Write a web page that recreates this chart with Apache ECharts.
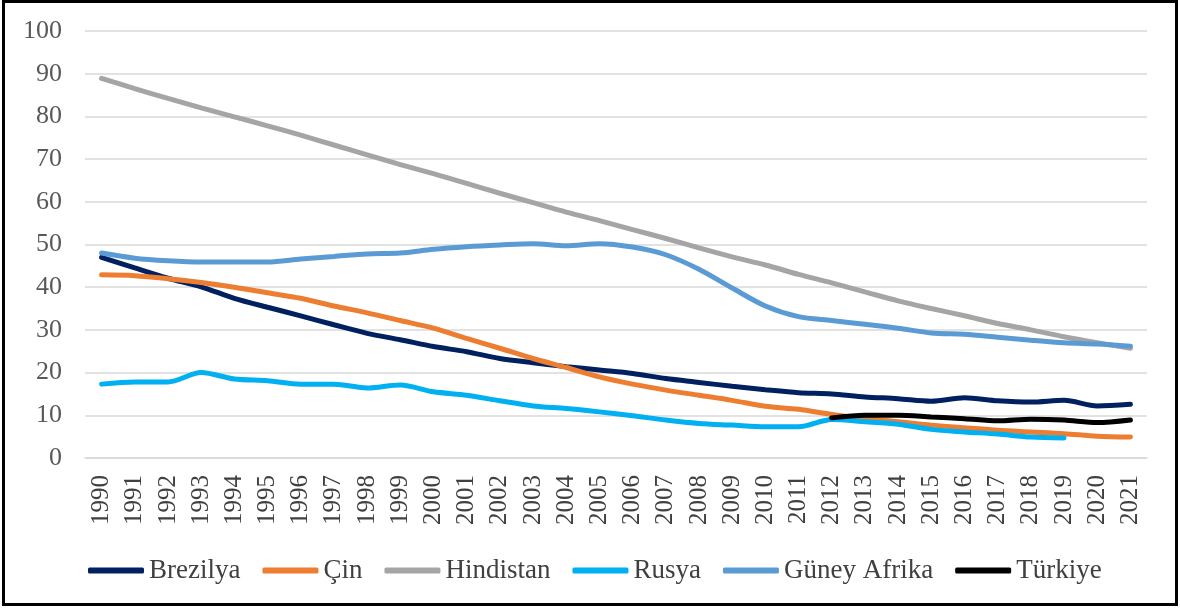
<!DOCTYPE html>
<html>
<head>
<meta charset="utf-8">
<script src="https://cdn.jsdelivr.net/npm/echarts@6/dist/echarts.min.js"></script>
<style>
html, body { margin: 0; padding: 0; background: #fff; }
#main { width: 1180px; height: 609px; }
</style>
</head>
<body>
<div id="main"></div>
<script>
var years = ['1990','1991','1992','1993','1994','1995','1996','1997','1998','1999','2000','2001','2002','2003','2004','2005','2006','2007','2008','2009','2010','2011','2012','2013','2014','2015','2016','2017','2018','2019','2020','2021'];

var brezilya = [47.0,44.5,42.1,40.1,37.4,35.3,33.3,31.2,29.2,27.7,26.1,24.9,23.3,22.3,21.4,20.6,19.8,18.6,17.7,16.8,16.0,15.3,15.0,14.3,13.9,13.3,14.1,13.4,13.1,13.5,12.2,12.6];
var cin = [42.9,42.7,42.0,41.1,40.0,38.7,37.4,35.6,34.0,32.2,30.4,28.0,25.7,23.3,21.2,19.0,17.3,15.9,14.7,13.5,12.1,11.4,10.2,9.2,8.5,7.7,7.1,6.5,6.1,5.7,5.1,4.9];
var hindistan = [88.9,86.5,84.2,82.0,79.9,77.8,75.6,73.3,71.0,68.7,66.6,64.3,62.0,59.8,57.6,55.6,53.5,51.4,49.2,47.1,45.2,43.0,41.0,38.9,36.8,35.0,33.3,31.5,30.0,28.4,27.0,25.7];
var rusya = [17.3,17.8,17.8,20.0,18.5,18.1,17.3,17.3,16.4,17.1,15.5,14.7,13.4,12.2,11.6,10.8,9.9,8.9,8.1,7.7,7.3,7.3,9.0,8.5,7.9,6.7,6.1,5.6,4.9,4.7,null,null];
var guneyAfrika = [48.0,46.8,46.2,45.9,45.9,45.9,46.6,47.2,47.8,48.0,48.9,49.5,49.9,50.2,49.7,50.2,49.4,47.6,44.2,39.8,35.6,33.1,32.2,31.3,30.4,29.3,29.0,28.3,27.6,27.0,26.7,26.2];
var turkiye = [null,null,null,null,null,null,null,null,null,null,null,null,null,null,null,null,null,null,null,null,null,null,9.4,10.0,10.0,9.6,9.2,8.7,9.1,8.9,8.3,8.9];

var names = ['Brezilya','Çin','Hindistan','Rusya','Güney Afrika','Türkiye'];
var colors = ['#002060','#ED7D31','#A5A5A5','#00B0F0','#5B9BD5','#000000'];
var values = [brezilya, cin, hindistan, rusya, guneyAfrika, turkiye];

var chart = echarts.init(document.getElementById('main'));

var series = [];
for (var i = 0; i < names.length; i++) {
	series.push({
		name: names[i],
		type: 'line',
		data: values[i],
		smooth: 0.3,
		symbol: 'none',
		lineStyle: { color: colors[i], width: 5, cap: 'round' },
		itemStyle: { color: colors[i] },
		z: 2 + i
	});
}

chart.setOption({
	animation: false,
	backgroundColor: '#fff',
	graphic: [{
		type: 'rect',
		shape: { x: 3.5, y: 1.5, width: 1173, height: 603 },
		style: { fill: 'none', stroke: '#000', lineWidth: 3 },
		silent: true
	}],
	grid: { left: 85, right: 33, top: 31, bottom: 151 },
	legend: {
		top: 552,
		left: 83,
		icon: 'roundRect',
		itemWidth: 56,
		itemHeight: 6,
		itemGap: 22,
		textStyle: { fontFamily: 'Liberation Serif', fontSize: 27, color: '#404040' },
		data: names
	},
	xAxis: {
		type: 'category',
		data: years,
		boundaryGap: true,
		axisLine: { lineStyle: { color: '#d9d9d9', width: 1.5 } },
		axisTick: { show: false },
		axisLabel: { rotate: 90, margin: 17, interval: 0, fontFamily: 'Liberation Serif', fontSize: 25, color: '#404040' }
	},
	yAxis: {
		type: 'value',
		min: 0,
		max: 100,
		interval: 10,
		axisLine: { show: false },
		axisTick: { show: false },
		splitLine: { lineStyle: { color: '#d9d9d9', width: 1.5 } },
		axisLabel: { margin: 23, fontFamily: 'Liberation Serif', fontSize: 26, color: '#595959' }
	},
	series: series
});
</script>
</body>
</html>
